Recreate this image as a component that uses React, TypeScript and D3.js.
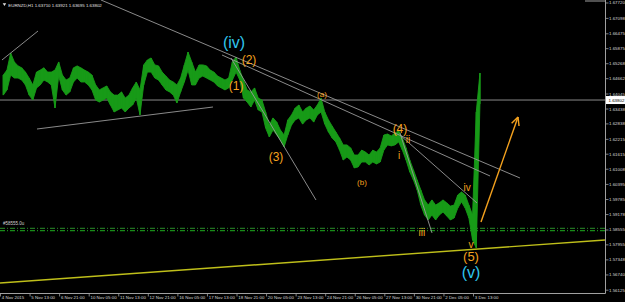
import React from "react";
import * as d3 from "d3";

// ---- data ----
const timeLabels = [
  "4 Nov 2015", "5 Nov 13:00", "6 Nov 21:00", "10 Nov 05:00", "11 Nov 13:00",
  "12 Nov 21:00", "16 Nov 05:00", "17 Nov 13:00", "18 Nov 21:00", "20 Nov 05:00",
  "23 Nov 13:00", "24 Nov 21:00", "26 Nov 05:00", "27 Nov 13:00", "30 Nov 21:00",
  "2 Dec 05:00", "3 Dec 13:00",
];
const BARS_PER_LABEL = 32;

const priceLabels = [
  1.6772, 1.67098, 1.66475, 1.65875, 1.65268, 1.64662, 1.64045, 1.63438, 1.62838, 1.62215,
  1.61615, 1.61008, 1.60395, 1.59785, 1.59178, 1.58555, 1.57955, 1.57348, 1.5674, 1.56125,
];

// 4-hour groups of H1 bars: high and low
const highs = [
  1.6481, 1.6501, 1.6570, 1.6534, 1.6518, 1.6510, 1.6493, 1.6469, 1.6441, 1.6493,
  1.6501, 1.6510, 1.6493, 1.6493, 1.6501, 1.6534, 1.6481, 1.6461, 1.6469, 1.6510,
  1.6518, 1.6510, 1.6501, 1.6493, 1.6481, 1.6441, 1.6421, 1.6429, 1.6437, 1.6413,
  1.6400, 1.6400, 1.6413, 1.6388, 1.6400, 1.6429, 1.6453, 1.6421, 1.6522, 1.6542,
  1.6550, 1.6522, 1.6518, 1.6493, 1.6477, 1.6461, 1.6453, 1.6441, 1.6469, 1.6522,
  1.6574, 1.6534, 1.6493, 1.6522, 1.6522, 1.6518, 1.6501, 1.6493, 1.6477, 1.6469,
  1.6461, 1.6469, 1.6534, 1.6554, 1.6501, 1.6461, 1.6421, 1.6413, 1.6429, 1.6388,
  1.6380, 1.6332, 1.6279, 1.6308, 1.6291, 1.6259, 1.6239, 1.6300, 1.6320, 1.6348,
  1.6360, 1.6332, 1.6348, 1.6356, 1.6340, 1.6360, 1.6388, 1.6332, 1.6300, 1.6275,
  1.6251, 1.6227, 1.6199, 1.6199, 1.6187, 1.6158, 1.6158, 1.6178, 1.6170, 1.6158,
  1.6178, 1.6170, 1.6187, 1.6239, 1.6243, 1.6235, 1.6247, 1.6255, 1.6227, 1.6187,
  1.6138, 1.6098, 1.6057, 1.6017, 1.5977, 1.5956, 1.5977, 1.5956, 1.5965, 1.5977,
  1.5965, 1.5952, 1.5956, 1.5997, 1.6009, 1.5997, 1.5956, 1.5916, 1.6332, 1.6489,
];
const lows = [
  1.6400, 1.6421, 1.6481, 1.6469, 1.6469, 1.6461, 1.6441, 1.6400, 1.6380, 1.6429,
  1.6441, 1.6461, 1.6453, 1.6441, 1.6348, 1.6477, 1.6421, 1.6400, 1.6413, 1.6453,
  1.6469, 1.6453, 1.6453, 1.6441, 1.6421, 1.6380, 1.6372, 1.6380, 1.6388, 1.6360,
  1.6332, 1.6340, 1.6348, 1.6332, 1.6348, 1.6360, 1.6388, 1.6320, 1.6441, 1.6493,
  1.6493, 1.6469, 1.6461, 1.6441, 1.6421, 1.6413, 1.6400, 1.6368, 1.6413, 1.6453,
  1.6501, 1.6441, 1.6441, 1.6469, 1.6477, 1.6469, 1.6461, 1.6453, 1.6437, 1.6429,
  1.6421, 1.6429, 1.6461, 1.6493, 1.6461, 1.6388, 1.6372, 1.6352, 1.6380, 1.6340,
  1.6332, 1.6267, 1.6231, 1.6259, 1.6239, 1.6219, 1.6191, 1.6239, 1.6279, 1.6300,
  1.6308, 1.6283, 1.6300, 1.6308, 1.6291, 1.6320, 1.6332, 1.6283, 1.6251, 1.6227,
  1.6211, 1.6178, 1.6138, 1.6150, 1.6138, 1.6106, 1.6110, 1.6130, 1.6130, 1.6118,
  1.6130, 1.6122, 1.6130, 1.6178, 1.6199, 1.6195, 1.6199, 1.6211, 1.6178, 1.6138,
  1.6090, 1.6057, 1.6017, 1.5956, 1.5916, 1.5896, 1.5916, 1.5896, 1.5916, 1.5928,
  1.5912, 1.5896, 1.5904, 1.5944, 1.5969, 1.5944, 1.5904, 1.5815, 1.5783, 1.6364,
];
const GROUP = 4;
const GROUP_OFFSET = 3;

const currentPrice = 1.63802;
const headerText = "EURNZD,H1  1.63710 1.63921 1.63695 1.63802";
const levelPrices = [1.58623, 1.58526];
const levelText = "#58555.0u";

// trend lines: [bar1, price1, bar2, price2]
const greyLines = [
  [1.6, 1.65418, 40.6, 1.66588],
  [108.8, 1.6784, 562.3, 1.60654],
  [239.8, 1.65619, 529.9, 1.60735],
  [249.5, 1.65498, 341.5, 1.59766],
  [432.4, 1.62471, 467.1, 1.58434],
  [432.4, 1.6239, 515.8, 1.59645],
  [39.5, 1.62632, 230, 1.6352],
];
const yellowLine = [-0.5, 1.56415, 654.3, 1.58151];
const arrowLine = [520.1, 1.58878, 560.2, 1.63116];

// wave labels: [text, bar, price, kind]
const waveLabels: [string, number, number, string][] = [
  ["(iv)", 252.8, 1.66124, "bigC"],
  ["(2)", 269, 1.65418, "mid"],
  ["(1)", 255, 1.64368, "mid"],
  ["(3)", 298.2, 1.61482, "mid"],
  ["(a)", 348, 1.64025, "small"],
  ["(b)", 391.3, 1.60492, "small"],
  ["(4)", 432.4, 1.62632, "mid"],
  ["ii", 441.1, 1.62228, "roman"],
  ["i", 431.4, 1.61542, "roman"],
  ["iii", 456.2, 1.58454, "roman"],
  ["iv", 505, 1.6027, "roman"],
  ["v", 509.3, 1.57949, "roman"],
  ["(5)", 509.3, 1.57485, "mid5"],
  ["(v)", 509.3, 1.56839, "bigC"],
];

const W = 625;
const H = 302;
const RIGHT = 605.5;
const BOTTOM = 293.5;
const FONT = "'Liberation Sans', Arial, sans-serif";
const ORANGE = "#f5a21e";
const CYAN = "#2fc6ee";
const GREEN = "#179a17";

export default function App() {
  const x = d3.scaleLinear().domain([0, 512]).range([0.5, 473.5]);
  const y = d3.scaleLinear().domain([1.56011, 1.6784]).range([293, 0]);

  const pts = highs.map((h, i) => ({ t: i * GROUP + GROUP_OFFSET, h, l: lows[i] }));
  const area = d3
    .area<{ t: number; h: number; l: number }>()
    .x((d) => x(d.t))
    .y0((d) => y(d.l))
    .y1((d) => y(d.h));

  const styleFor = (kind: string) => {
    switch (kind) {
      case "bigC":
        return { fill: CYAN, size: 16 };
      case "mid":
        return { fill: ORANGE, size: 12 };
      case "mid5":
        return { fill: ORANGE, size: 13 };
      case "small":
        return { fill: ORANGE, size: 8 };
      default:
        return { fill: ORANGE, size: 10 };
    }
  };

  const ax1 = x(arrowLine[0]);
  const ay1 = y(arrowLine[1]);
  const ax2 = x(arrowLine[2]);
  const ay2 = y(arrowLine[3]);
  const ang = Math.atan2(ay2 - ay1, ax2 - ax1);
  const headLen = 9;
  const headA = 0.45;

  return (
    <svg
      width={W}
      height={H}
      style={{ position: "absolute", left: 0, top: 0, background: "#000" }}
    >
      <rect x={0} y={0} width={W} height={H} fill="#000" />

      <line x1={0} x2={RIGHT} y1={y(currentPrice)} y2={y(currentPrice)} stroke="#8a8a8a" strokeWidth={1} />

      {levelPrices.map((p, i) => (
        <line
          key={"lv" + i}
          x1={0}
          x2={RIGHT}
          y1={y(p)}
          y2={y(p)}
          stroke={i === 0 ? "#2a8f2a" : "#1fae1f"}
          strokeWidth={1}
          strokeDasharray="5,2,1,2"
        />
      ))}
      <text x={3} y={y(levelPrices[0]) - 3} fontSize={4.5} fill="#cfcfcf" fontFamily={FONT}>
        {levelText}
      </text>

      <path d={area(pts) || ""} fill={GREEN} stroke={GREEN} strokeWidth={0.9} />
      {pts.map((d, i) => (
        <line
          key={"b" + i}
          x1={x(d.t)}
          x2={x(d.t)}
          y1={y(d.h)}
          y2={y(d.l)}
          stroke={GREEN}
          strokeWidth={1.2}
        />
      ))}

      {greyLines.map((l, i) => (
        <line
          key={"g" + i}
          x1={x(l[0])}
          y1={y(l[1])}
          x2={x(l[2])}
          y2={y(l[3])}
          stroke="#9a9a9a"
          strokeWidth={0.9}
        />
      ))}

      <line
        x1={x(yellowLine[0])}
        y1={y(yellowLine[1])}
        x2={x(yellowLine[2])}
        y2={y(yellowLine[3])}
        stroke="#bfbf1a"
        strokeWidth={1.4}
      />

      <line x1={ax1} y1={ay1} x2={ax2} y2={ay2} stroke={ORANGE} strokeWidth={1.4} />
      <line
        x1={ax2}
        y1={ay2}
        x2={ax2 - headLen * Math.cos(ang - headA)}
        y2={ay2 - headLen * Math.sin(ang - headA)}
        stroke={ORANGE}
        strokeWidth={1.4}
      />
      <line
        x1={ax2}
        y1={ay2}
        x2={ax2 - headLen * Math.cos(ang + headA)}
        y2={ay2 - headLen * Math.sin(ang + headA)}
        stroke={ORANGE}
        strokeWidth={1.4}
      />

      {waveLabels.map(([t, b, p, kind], i) => {
        const s = styleFor(kind);
        return (
          <text
            key={"w" + i}
            x={x(b)}
            y={y(p)}
            fill={s.fill}
            fontSize={s.size}
            fontFamily={FONT}
            textAnchor="middle"
            dominantBaseline="central"
          >
            {t}
          </text>
        );
      })}

      <path d="M2.7,3.3 L6.2,3.3 L4.45,5.9 Z" fill="#e0e0e0" />
      <text x={8.3} y={6.6} fontSize={4.4} fill="#e0e0e0" fontFamily={FONT}>
        {headerText}
      </text>

      <line x1={RIGHT} x2={RIGHT} y1={0} y2={BOTTOM} stroke="#a0a0a0" strokeWidth={1} />
      <line x1={0} x2={RIGHT} y1={BOTTOM} y2={BOTTOM} stroke="#a0a0a0" strokeWidth={1} />
      <line x1={585} x2={RIGHT} y1={1} y2={1} stroke="#a0a0a0" strokeWidth={1} />

      {priceLabels.map((p, i) => (
        <g key={"p" + i}>
          <line x1={RIGHT} x2={RIGHT + 3} y1={y(p)} y2={y(p)} stroke="#a0a0a0" strokeWidth={0.8} />
          <text
            x={609}
            y={y(p)}
            fontSize={4.4}
            fill="#d8d8d8"
            fontFamily={FONT}
            dominantBaseline="central"
          >
            {p.toFixed(5)}
          </text>
        </g>
      ))}
      <rect x={606} y={y(currentPrice) - 4} width={19} height={8} fill="#ffffff" />
      <text
        x={608.5}
        y={y(currentPrice)}
        fontSize={4.4}
        fill="#000"
        fontFamily={FONT}
        dominantBaseline="central"
      >
        {currentPrice.toFixed(5)}
      </text>

      {timeLabels.map((t, i) => {
        const tx = x(i * BARS_PER_LABEL);
        return (
          <g key={"t" + i}>
            <line x1={tx} x2={tx} y1={BOTTOM} y2={BOTTOM + 3} stroke="#a0a0a0" strokeWidth={0.8} />
            <text
              x={tx + 1.3}
              y={297.5}
              fontSize={4.4}
              fill="#d8d8d8"
              fontFamily={FONT}
              dominantBaseline="central"
            >
              {t}
            </text>
          </g>
        );
      })}
    </svg>
  );
}
